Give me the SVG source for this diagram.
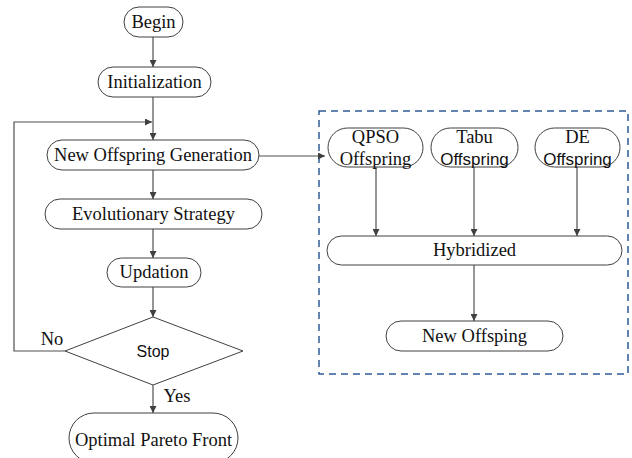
<svg xmlns="http://www.w3.org/2000/svg" width="632" height="458" viewBox="0 0 632 458">
  <style>
    .box { fill: #ffffff; stroke: #404040; stroke-width: 1; }
    .lbl { font-family: "Liberation Serif", "Times New Roman", "DejaVu Serif", serif; font-size: 18.5px; fill: #111111; text-anchor: middle; }
    .sans { font-family: "Liberation Sans", Arial, sans-serif; font-size: 16px; fill: #111111; text-anchor: middle; }
    .edge { fill: none; stroke: #505050; stroke-width: 1.2; }
    .frame { fill: none; stroke: #2f5b97; stroke-width: 1.5; stroke-dasharray: 7 5; }
  </style>
  <defs>
    <marker id="arrow" viewBox="0 0 10 10" refX="10" refY="5" markerWidth="7" markerHeight="7" orient="auto" markerUnits="userSpaceOnUse">
      <path d="M0,0 L10,5 L0,10 z" fill="#404040"/>
    </marker>
  </defs>

  <rect width="632" height="458" fill="#ffffff"/>

  <!-- hybrid offspring frame -->
  <rect class="frame" x="319" y="111" width="309" height="263"/>

  <g id="connectors">
    <line class="edge" x1="153" y1="37" x2="153" y2="67" marker-end="url(#arrow)"/>
    <line class="edge" x1="153" y1="97" x2="153" y2="140" marker-end="url(#arrow)"/>
    <polyline class="edge" points="65,351 14,351 14,122 152,122" marker-end="url(#arrow)"/>
    <line class="edge" x1="153" y1="170" x2="153" y2="199" marker-end="url(#arrow)"/>
    <line class="edge" x1="153" y1="229" x2="153" y2="258" marker-end="url(#arrow)"/>
    <line class="edge" x1="153" y1="287" x2="153" y2="317" marker-end="url(#arrow)"/>
    <line class="edge" x1="153" y1="385" x2="153" y2="413" marker-end="url(#arrow)"/>
    <line class="edge" x1="259" y1="156" x2="325" y2="156" marker-end="url(#arrow)"/>
    <line class="edge" x1="376" y1="160" x2="376" y2="236" marker-end="url(#arrow)"/>
    <line class="edge" x1="474" y1="160" x2="474" y2="236" marker-end="url(#arrow)"/>
    <line class="edge" x1="577" y1="160" x2="577" y2="236" marker-end="url(#arrow)"/>
    <line class="edge" x1="474" y1="265" x2="474" y2="321" marker-end="url(#arrow)"/>
  </g>

  <g id="begin">
    <rect class="box" x="124" y="7" width="59" height="30" rx="15"/>
    <text class="lbl" x="153.5" y="28">Begin</text>
  </g>
  <g id="initialization">
    <rect class="box" x="98" y="67" width="113" height="30" rx="15"/>
    <text class="lbl" x="154.5" y="88">Initialization</text>
  </g>
  <g id="new-offspring-generation">
    <rect class="box" x="47" y="140" width="212" height="30" rx="15"/>
    <text class="lbl" x="153" y="161">New Offspring Generation</text>
  </g>
  <g id="evolutionary-strategy">
    <rect class="box" x="45" y="199" width="217" height="30" rx="15"/>
    <text class="lbl" x="153.5" y="220">Evolutionary Strategy</text>
  </g>
  <g id="updation">
    <rect class="box" x="107" y="258" width="94" height="29" rx="14.5"/>
    <text class="lbl" x="154" y="278">Updation</text>
  </g>
  <g id="stop">
    <polygon class="box" points="153,317 243,351 153,385 65,351"/>
    <text class="sans" x="153" y="357">Stop</text>
  </g>
  <text class="lbl" x="52" y="345">No</text>
  <text class="lbl" x="177" y="402">Yes</text>
  <g id="optimal-pareto-front">
    <rect class="box" x="69" y="413" width="169" height="50" rx="25"/>
    <text class="lbl" x="153.5" y="446">Optimal Pareto Front</text>
  </g>

  <g id="qpso-offspring">
    <rect class="box" x="328" y="128" width="95" height="39" rx="19.5"/>
    <text class="lbl" x="375.5" y="143">QPSO</text>
    <text class="lbl" x="375.5" y="165">Offspring</text>
  </g>
  <g id="tabu-offspring">
    <rect class="box" x="431" y="128" width="87" height="39" rx="19.5"/>
    <text class="lbl" x="474.5" y="143">Tabu</text>
    <text class="sans" x="474.5" y="165" style="font-size:17px">Offspring</text>
  </g>
  <g id="de-offspring">
    <rect class="box" x="535" y="128" width="85" height="39" rx="19.5"/>
    <text class="lbl" x="577.5" y="143">DE</text>
    <text class="sans" x="577.5" y="165" style="font-size:17px">Offspring</text>
  </g>
  <g id="hybridized">
    <rect class="box" x="327" y="236" width="295" height="29" rx="14.5"/>
    <text class="lbl" x="474.5" y="256">Hybridized</text>
  </g>
  <g id="new-offsping">
    <rect class="box" x="386" y="321" width="177" height="30" rx="15"/>
    <text class="lbl" x="474.5" y="342">New Offsping</text>
  </g>
</svg>
